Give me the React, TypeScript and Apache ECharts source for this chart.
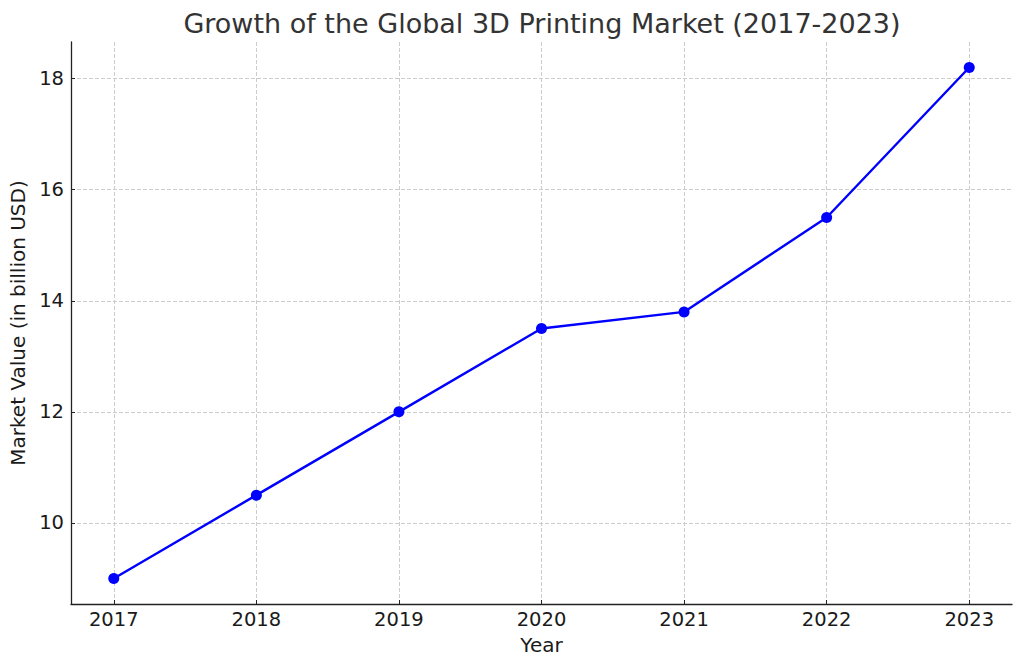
import React, { useEffect, useRef } from "react";
import * as echarts from "echarts";

const years: number[] = [2017, 2018, 2019, 2020, 2021, 2022, 2023];
const marketValues: number[] = [9.0, 10.5, 12.0, 13.5, 13.8, 15.5, 18.2];
const yTicks: number[] = [10, 12, 14, 16, 18];
const titleText = "Growth of the Global 3D Printing Market (2017-2023)";
const xName = "Year";
const yName = "Market Value (in billion USD)";

const FONT = "DejaVu Sans";
const TEXT = "#1a1a1a";

export default function App() {
  const ref = useRef<HTMLDivElement>(null);
  useEffect(() => {
    if (!ref.current) return;
    const chart = echarts.init(ref.current, undefined, { renderer: "svg" });
    const yMin = 9.0 - 0.46;
    const yMax = 18.2 + 0.46;
    chart.setOption({
      animation: false,
      backgroundColor: "#ffffff",
      title: {
        text: titleText,
        left: 537,
        top: 5,
        textAlign: "center",
        textStyle: { fontFamily: FONT, fontSize: 27, fontWeight: "normal", color: "#333333" },
      },
      grid: { left: 71, right: 12, top: 42, bottom: 65, containLabel: false, outerBoundsMode: "none" },
      xAxis: {
        type: "value",
        min: 2016.7,
        max: 2023.3,
        name: xName,
        nameLocation: "middle",
        nameGap: 31,
        nameTextStyle: { fontFamily: FONT, fontSize: 20, color: TEXT },
        axisLine: { show: true, lineStyle: { color: "#222222", width: 1.3 } },
        axisTick: { show: true, inside: true, length: 4, lineStyle: { color: "#222222", width: 1 }, customValues: years },
        axisLabel: {
          customValues: years,
          fontFamily: FONT,
          fontSize: 19.5,
          color: TEXT,
          margin: 5,
          formatter: (v: number) => String(Math.round(v)),
        },
        splitLine: { show: true, lineStyle: { color: "#cccccc", type: [4, 2], width: 1 } },
      },
      yAxis: {
        type: "value",
        min: yMin,
        max: yMax,
        name: yName,
        nameLocation: "middle",
        nameGap: 40,
        nameRotate: 90,
        nameTextStyle: { fontFamily: FONT, fontSize: 20, color: TEXT },
        axisLine: { show: true, lineStyle: { color: "#222222", width: 1.3 } },
        axisTick: { show: true, inside: true, length: 4, lineStyle: { color: "#222222", width: 1 }, customValues: yTicks },
        axisLabel: {
          customValues: yTicks,
          fontFamily: FONT,
          fontSize: 19.5,
          color: TEXT,
          margin: 7,
          formatter: (v: number) => String(Math.round(v)),
        },
        splitLine: { show: true, lineStyle: { color: "#cccccc", type: [4, 2], width: 1 } },
      },
      series: [
        {
          type: "line",
          data: years.map((y, i) => [y, marketValues[i]]),
          symbol: "circle",
          symbolSize: 11,
          lineStyle: { color: "#0000ff", width: 2.4 },
          itemStyle: { color: "#0000ff" },
          z: 5,
        },
      ],
    });
    return () => chart.dispose();
  }, []);
  return (
    <div
      ref={ref}
      style={{ position: "fixed", left: 0, top: 0, width: 1024, height: 669, background: "#fff" }}
    />
  );
}
